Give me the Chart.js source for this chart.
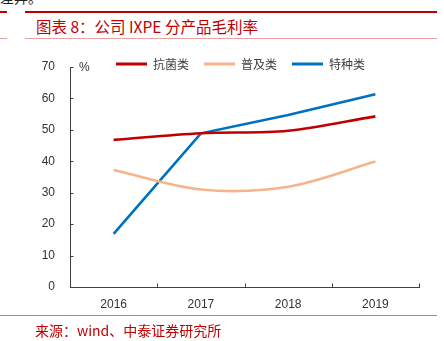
<!DOCTYPE html>
<html>
<head>
<meta charset="utf-8">
<script src="https://cdn.jsdelivr.net/npm/chart.js@4"></script>
<style>
  html, body { margin: 0; padding: 0; background: #fff; }
  body { width: 444px; height: 341px; position: relative; overflow: hidden; font-family: "Noto Sans CJK SC", sans-serif; }
  #chart { position: absolute; left: 0; top: 0; }
  .rule { position: absolute; height: 0; }
  .top-rule { border-top: 2px solid #C00000; top: 11px; }
  .sub-rule { border-top: 1px solid #E8A0A0; top: 38px; }
  .foot-rule { border-top: 1px solid #E07070; top: 315px; }
  #lead { position: absolute; left: 0; top: -10px; font-size: 14px; line-height: 14px; color: #222; }
  #title { position: absolute; left: 36px; top: 16px; font-size: 15.5px; color: #C00000; white-space: nowrap; line-height: 20px; }
  #source { position: absolute; left: 35px; top: 320px; font-size: 14px; color: #C00000; white-space: nowrap; line-height: 20px; }
</style>
</head>
<body>
<div id="lead">差异。</div>
<div class="rule top-rule" style="left:0;width:7px"></div>
<div class="rule top-rule" style="left:25px;width:412px"></div>
<div id="title">图表 8：公司 IXPE 分产品毛利率</div>
<div class="rule sub-rule" style="left:0;width:7px"></div>
<div class="rule sub-rule" style="left:25px;width:412px"></div>
<canvas id="chart" width="444" height="341"></canvas>
<div class="rule foot-rule" style="left:0;width:437px"></div>
<div id="source">来源：wind、中泰证券研究所</div>
<script>
// Gross margin by product line (%), 2016-2019
const years = ['2016', '2017', '2018', '2019'];
const antibacterial = [46.8, 48.9, 49.7, 54.3];   // 抗菌类
const general = [37.2, 31.0, 31.9, 39.9];         // 普及类
const special = [16.9, 48.9, 54.7, 61.3];         // 特种类
const seriesNames = ['抗菌类', '普及类', '特种类'];
const yTicks = [0, 10, 20, 30, 40, 50, 60, 70];

const axisColor = '#404040';
const textColor = '#333333';

// Short inward tick marks, the "%" unit label, and legend placement
const axisDecor = {
  id: 'axisDecor',
  afterLayout(chart) {
    const lg = chart.legend;
    const ca = chart.chartArea;
    if (!lg) return;
    const pad = lg.options.labels.padding;
    const itemH = Math.max(lg.options.labels.boxHeight, lg.options.labels.font.size);
    const h = lg.height, w = lg.width;
    lg.top = ca.top - 3 - pad - itemH / 2;
    lg.bottom = lg.top + h;
    lg.left = ca.left + 46 - pad;
    lg.right = lg.left + w;
  },
  afterDraw(chart) {
    const ctx = chart.ctx;
    const x = chart.scales.x, y = chart.scales.y;
    ctx.save();
    ctx.strokeStyle = axisColor;
    ctx.lineWidth = 1;
    ctx.beginPath();
    y.ticks.forEach(t => {
      const py = Math.round(y.getPixelForValue(t.value)) + 0.5;
      ctx.moveTo(y.right, py);
      ctx.lineTo(y.right + 3.5, py);
    });
    for (let i = 0; i < years.length; i++) {
      const px = Math.round(x.getPixelForValue(i + 0.5)) + 0.5;
      ctx.moveTo(px, x.top);
      ctx.lineTo(px, x.top - 3.5);
    }
    ctx.stroke();
    ctx.fillStyle = textColor;
    ctx.font = '12px "Liberation Sans", sans-serif';
    ctx.textBaseline = 'middle';
    ctx.textAlign = 'left';
    ctx.fillText('%', y.right + 9, y.getPixelForValue(70) + 1);
    ctx.restore();
  }
};

const colors = ['#C00000', '#F7B38C', '#0070C0'];

new Chart(document.getElementById('chart'), {
  type: 'line',
  data: {
    labels: years,
    datasets: [
      { label: seriesNames[0], data: antibacterial, borderColor: colors[0], backgroundColor: colors[0], tension: 0.33 },
      { label: seriesNames[1], data: general, borderColor: colors[1], backgroundColor: colors[1], tension: 0.33 },
      { label: seriesNames[2], data: special, borderColor: colors[2], backgroundColor: colors[2], tension: 0 }
    ]
  },
  options: {
    responsive: false,
    animation: false,
    layout: { padding: { left: 30, right: 25, top: 30, bottom: 24 } },
    elements: {
      point: { radius: 0, hoverRadius: 0 },
      line: { borderWidth: 2.6, fill: false, borderCapStyle: 'butt' }
    },
    plugins: {
      tooltip: { enabled: false },
      legend: {
        position: 'top',
        align: 'start',
        labels: {
          boxWidth: 31,
          boxHeight: 3,
          padding: 15,
          color: '#404040',
          font: { family: '"Noto Sans CJK SC", sans-serif', size: 12 },
          generateLabels(chart) {
            return chart.data.datasets.map((ds, i) => ({
              text: ds.label,
              fillStyle: ds.borderColor,
              strokeStyle: ds.borderColor,
              lineWidth: 0,
              hidden: false,
              datasetIndex: i,
              fontColor: '#404040'
            }));
          }
        }
      }
    },
    scales: {
      x: {
        type: 'category',
        offset: true,
        grid: { display: false, drawTicks: false, offset: true },
        border: { display: true, color: axisColor, width: 1 },
        ticks: { color: textColor, padding: 10, font: { family: '"Liberation Sans", sans-serif', size: 12 }, maxRotation: 0 },
        afterFit(s) { s.height = 30; }
      },
      y: {
        min: 0,
        max: 70,
        afterBuildTicks(s) { s.ticks = yTicks.map(v => ({ value: v })); },
        grid: { display: false, drawTicks: false },
        border: { display: true, color: axisColor, width: 1 },
        ticks: { color: textColor, padding: 15, font: { family: '"Liberation Sans", sans-serif', size: 12 } },
        afterFit(s) { s.width = 40; }
      }
    }
  },
  plugins: [axisDecor]
});
</script>
</body>
</html>
